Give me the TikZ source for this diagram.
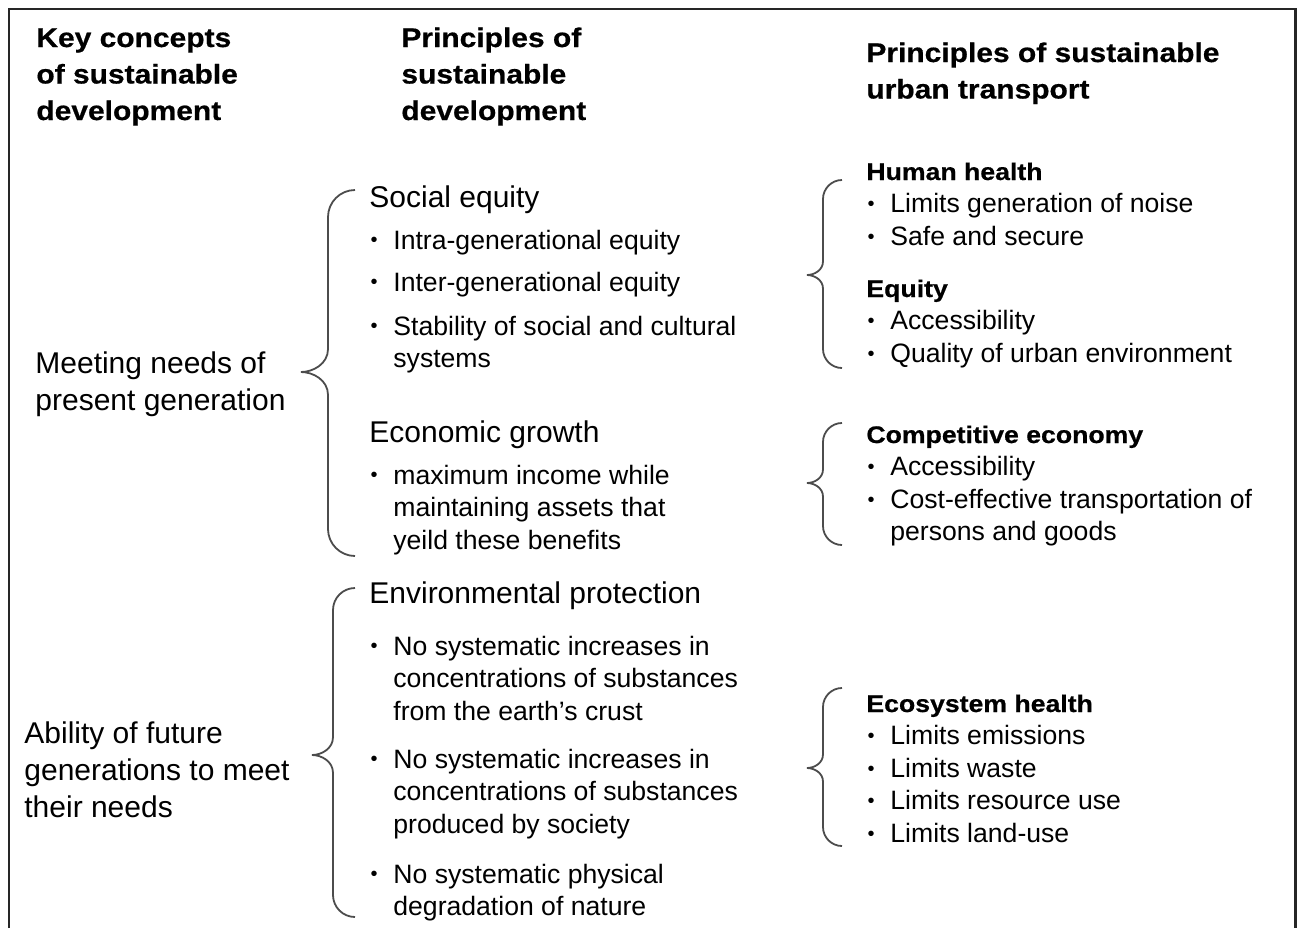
\documentclass[tikz,border=0pt]{standalone}
\usepackage{fontspec}
\setmainfont{Liberation Sans}
\newfontfamily\headfont{Liberation Sans}[FakeStretch=1.11, FakeBold=0.6]
\tikzstyle{tFrame} = [line width=1.2pt, black!85]
\tikzstyle{tBrace} = [line width=0.9pt, black!70]
\tikzstyle{tHead} = [anchor=base west, inner sep=0pt, font=\headfont\bfseries\fontsize{13.5}{18.25}\selectfont]
\tikzstyle{tBig} = [anchor=base west, inner sep=0pt, font=\fontsize{15}{18.5}\selectfont]
\tikzstyle{tBul} = [anchor=base west, inner sep=0pt, font=\fontsize{13.3}{16.3}\selectfont]
\newcommand{\tlines}[1]{\begin{tabular}[t]{@{}l@{}}#1\end{tabular}}
\newcommand{\bdot}{\makebox[12pt][l]{\hspace{0.6pt}\raisebox{1.1pt}{\fontsize{10}{10}\selectfont •}}}
\newcommand{\subhead}[1]{\multicolumn{2}{@{}l@{}}{\headfont\bfseries\fontsize{12}{16.3}\selectfont #1}}
% brace: tip x, line x, end x, top y, tip y, bottom y
\newcommand{\sdbrace}[6]{%
  \draw[tBrace] (#3,#4) .. controls ({#2+0.45*(#3-#2)},#4) and (#2,{#4+0.45*(#3-#2)}) .. (#2,{#4+(#3-#2)})
    -- (#2,{#5-0.85*(#2-#1)}) .. controls (#2,{#5-0.3*(#2-#1)}) and ({#1+0.45*(#2-#1)},#5) .. (#1,#5)
    .. controls ({#1+0.45*(#2-#1)},#5) and (#2,{#5+0.3*(#2-#1)}) .. (#2,{#5+0.85*(#2-#1)})
    -- (#2,{#6-(#3-#2)}) .. controls (#2,{#6-0.45*(#3-#2)}) and ({#2+0.45*(#3-#2)},#6) .. (#3,#6);}

\begin{document}
\begin{tikzpicture}[x=0.5pt, y=-0.5pt]
    \useasboundingbox (0,0) rectangle (1297,928);
    \draw[tFrame] (9,928) -- (9,9) -- (1295.5,9) -- (1295.5,928);

    % column heads
    \node[tHead] (KeyHead) at (36,47) {\tlines{Key concepts\\of sustainable\\development}};
    \node[tHead] (PrinHead) at (401,47) {\tlines{Principles of\\sustainable\\development}};
    \node[tHead] (TransHead) at (866,62) {\tlines{Principles of sustainable\\urban transport}};

    % key concepts
    \node[tBig] (Present) at (35,373) {\tlines{Meeting needs of\\present generation}};
    \node[tBig] (Future) at (24,743) {\tlines{Ability of future\\generations to meet\\their needs}};

    % principles of sustainable development
    \node[tBig] (Social) at (369,207) {Social equity};
    \node[tBul] (Intra) at (369,249) {\bdot Intra-generational equity};
    \node[tBul] (Inter) at (369,291) {\bdot Inter-generational equity};
    \node[tBul] (Stab) at (369,335) {\bdot\tlines{Stability of social and cultural\\systems}};
    \node[tBig] (Econ) at (369,442) {Economic growth};
    \node[tBul] (Income) at (369,484) {\bdot\tlines{maximum income while\\maintaining assets that\\yeild these benefits}};
    \node[tBig] (Env) at (369,603) {Environmental protection};
    \node[tBul] (Crust) at (369,655) {\bdot\tlines{No systematic increases in\\concentrations of substances\\from the earth’s crust}};
    \node[tBul] (Society) at (369,768) {\bdot\tlines{No systematic increases in\\concentrations of substances\\produced by society}};
    \node[tBul] (Nature) at (369,883) {\bdot\tlines{No systematic physical\\degradation of nature}};

    % principles of sustainable urban transport
    \node[tBul] (Health) at (866,180) {\begin{tabular}[t]{@{}l@{}l@{}}\subhead{Human health}\\
        \bdot & Limits generation of noise\\ \bdot & Safe and secure\end{tabular}};
    \node[tBul] (Equity) at (866,297) {\begin{tabular}[t]{@{}l@{}l@{}}\subhead{Equity}\\
        \bdot & Accessibility\\ \bdot & Quality of urban environment\end{tabular}};
    \node[tBul] (Economy) at (866,443) {\begin{tabular}[t]{@{}l@{}l@{}}\subhead{Competitive economy}\\
        \bdot & Accessibility\\ \bdot & Cost-effective transportation of\\ & persons and goods\end{tabular}};
    \node[tBul] (Ecosys) at (866,712) {\begin{tabular}[t]{@{}l@{}l@{}}\subhead{Ecosystem health}\\
        \bdot & Limits emissions\\ \bdot & Limits waste\\ \bdot & Limits resource use\\ \bdot & Limits land-use\end{tabular}};

    % braces
    \sdbrace{301}{328}{355}{190}{372}{556}
    \sdbrace{312}{333}{355}{588}{755}{917}
    \sdbrace{807}{823}{842}{180}{275}{368}
    \sdbrace{807}{823}{842}{423}{483}{545}
    \sdbrace{807}{823}{842}{688}{768}{846}
\end{tikzpicture}
\end{document}
